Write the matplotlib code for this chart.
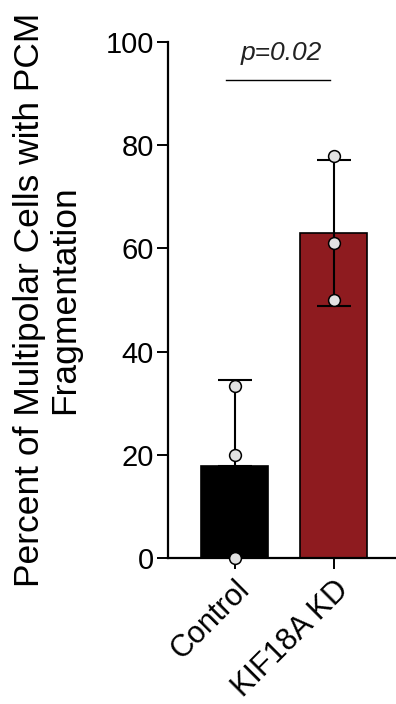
import matplotlib
matplotlib.use("Agg")
import matplotlib.pyplot as plt
import numpy as np

plt.rcParams['font.family'] = ['Liberation Sans', 'DejaVu Sans']

# data
groups = ["Control", "KIF18A KD"]
replicates = [
    [33.3, 20.0, 0.0],
    [78.0, 61.0, 50.0],
]
bar_colors = ["#000000", "#8E1B1F"]
p_label = "p=0.02"
y_ticks = [0, 20, 40, 60, 80, 100]

means = [np.mean(r) for r in replicates]
sds = [np.std(r, ddof=1) for r in replicates]
x = np.arange(len(groups))

fig = plt.figure(figsize=(3.96, 7.04), dpi=100)
ax = fig.add_axes([0.424, 0.2074, 0.576, 0.7329])

ax.bar(x, means, width=0.68, color=bar_colors, edgecolor="black",
       linewidth=1.2, zorder=2)

# error bars: control only upward (lower half hidden in the black bar)
for i in range(len(groups)):
    lo = 0 if i == 0 else sds[i]
    ax.errorbar(x[i], means[i], yerr=[[lo], [sds[i]]], fmt="none",
                ecolor="black", elinewidth=1.5, capsize=12.5,
                capthick=1.5, zorder=3)

# individual replicates
for i, vals in enumerate(replicates):
    ax.plot([x[i]] * len(vals), vals, "o", markersize=8.5,
            markerfacecolor="#E2E2E2", markeredgecolor="black",
            markeredgewidth=1.1, zorder=4, clip_on=False)

# significance bracket
ax.plot([-0.085, 0.96], [92.6, 92.6], color="black", linewidth=1.0,
        zorder=3, clip_on=False)
ax.text(0.475, 96.6, p_label, ha="center", va="baseline", fontsize=19,
        style="italic", color="#222222")

ax.set_xlim(-0.675, 1.63)
ax.set_ylim(0, 100)
ax.set_yticks(y_ticks)
ax.set_yticklabels([str(t) for t in y_ticks], fontsize=21)
ax.set_xticks(x)
ax.set_xticklabels(groups, rotation=45, ha="right", rotation_mode="anchor",
                   fontsize=22)

ax.set_ylabel("Percent of Multipolar Cells with PCM\nFragmentation",
              fontsize=25.5, linespacing=1.05, labelpad=18)

for side in ["top", "right"]:
    ax.spines[side].set_visible(False)
for side in ["left", "bottom"]:
    ax.spines[side].set_linewidth(1.6)
ax.tick_params(axis="both", width=1.4, length=8, pad=2)
ax.tick_params(axis="x", pad=4)

fig.savefig("out.png", dpi=100)
